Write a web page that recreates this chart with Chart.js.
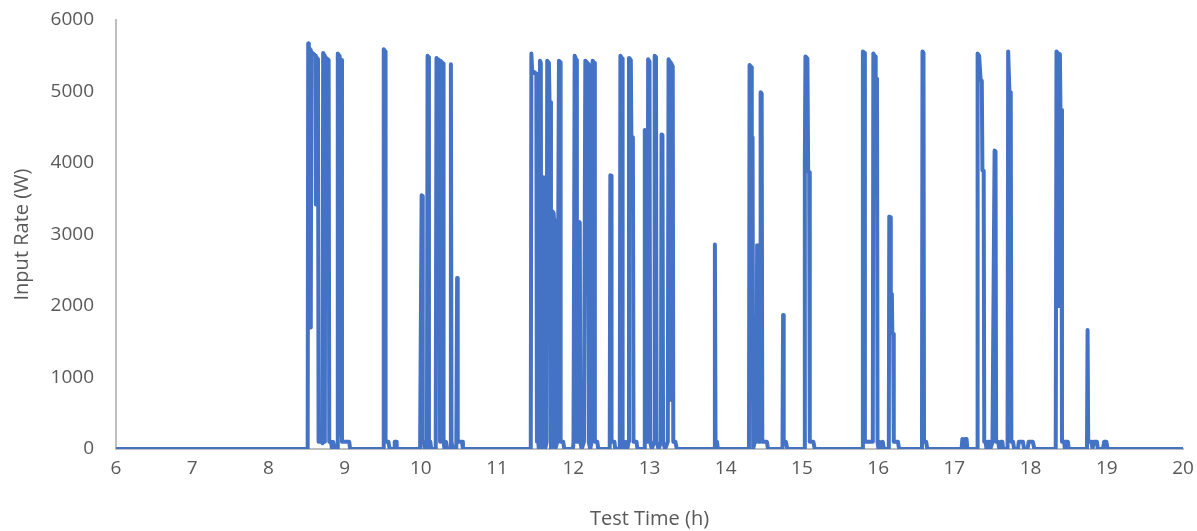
<!DOCTYPE html>
<html>
<head>
<meta charset="utf-8">
<script src="https://cdn.jsdelivr.net/npm/chart.js@4.4.0/dist/chart.umd.min.js"></script>
<style>
  html, body { margin: 0; padding: 0; background: #fff; }
  #wrap { width: 1197px; height: 531px; }
</style>
</head>
<body>
<div id="wrap"><canvas id="rateChart"></canvas></div>
<script>
// Test time (h) and input rate (W), one line per burst
const testTime = [
  6.0,
  8.515, 8.522, 8.530, 8.550, 8.556, 8.562, 8.600, 8.616, 8.622, 8.628, 8.650, 8.658, 8.700, 8.710, 8.718, 8.735, 8.740, 8.746, 8.790, 8.798, 8.820, 8.835, 8.850, 8.870, 8.900, 8.910, 8.928, 8.934, 8.940, 8.958, 8.965, 9.060, 9.072,
  9.505, 9.513, 9.530, 9.537, 9.575, 9.590, 9.650, 9.657, 9.675, 9.683,
  9.990, 10.010, 10.018, 10.025, 10.040, 10.050, 10.080, 10.088, 10.100, 10.106, 10.125, 10.135, 10.195, 10.205, 10.214, 10.220, 10.227, 10.246, 10.252, 10.258, 10.292, 10.298, 10.310, 10.330, 10.345, 10.385, 10.394, 10.402, 10.420, 10.465, 10.476, 10.484, 10.540, 10.552,
  11.442, 11.450, 11.460, 11.515, 11.523, 11.540, 11.548, 11.556, 11.563, 11.574, 11.581, 11.605, 11.613, 11.624, 11.631, 11.650, 11.658, 11.680, 11.688, 11.700, 11.707, 11.722, 11.730, 11.742, 11.748, 11.757, 11.764, 11.790, 11.812, 11.826, 11.834, 11.868, 11.882,
  11.995, 12.003, 12.018, 12.040, 12.047, 12.062, 12.070, 12.085, 12.092, 12.110, 12.140, 12.158, 12.185, 12.195, 12.203, 12.222, 12.240, 12.254, 12.275, 12.283, 12.315, 12.328,
  12.478, 12.486, 12.495, 12.502, 12.540, 12.550,
  12.610, 12.618, 12.640, 12.647, 12.665, 12.690, 12.710, 12.724, 12.731, 12.755, 12.762, 12.782, 12.790, 12.830, 12.842,
  12.930, 12.938, 12.955, 12.962, 12.975, 12.982, 13.000, 13.008, 13.030, 13.060, 13.068, 13.085, 13.093, 13.120, 13.150, 13.158, 13.170, 13.178, 13.205, 13.240, 13.250, 13.265, 13.270, 13.276, 13.305, 13.312, 13.340, 13.358,
  13.850, 13.858, 13.866, 13.885, 13.897,
  14.305, 14.313, 14.335, 14.342, 14.352, 14.360, 14.380, 14.405, 14.412, 14.425, 14.432, 14.450, 14.458, 14.472, 14.480, 14.540, 14.555,
  14.745, 14.753, 14.761, 14.790, 14.808,
  15.030, 15.038, 15.046, 15.072, 15.082, 15.095, 15.103, 15.150, 15.168,
  15.790, 15.800, 15.818, 15.826, 15.845, 15.930, 15.937, 15.960, 15.968, 15.985, 15.992, 16.005, 16.020, 16.035, 16.060, 16.075, 16.140, 16.146, 16.160, 16.166, 16.180, 16.186, 16.198, 16.205, 16.260, 16.275,
  16.575, 16.582, 16.595, 16.602, 16.630, 16.645,
  17.095, 17.105, 17.115, 17.140, 17.150, 17.160, 17.170,
  17.298, 17.305, 17.325, 17.345, 17.360, 17.368, 17.385, 17.392, 17.410, 17.422, 17.440, 17.460, 17.472, 17.500, 17.528, 17.540, 17.548, 17.575, 17.590, 17.610, 17.630, 17.640, 17.698, 17.706, 17.722, 17.740, 17.748, 17.770, 17.785, 17.835, 17.845, 17.900, 17.915, 17.960, 17.975, 18.030, 18.050,
  18.330, 18.340, 18.355, 18.362, 18.370, 18.385, 18.392, 18.405, 18.412, 18.440, 18.450, 18.460, 18.490, 18.500,
  18.740, 18.748, 18.756, 18.800, 18.812, 18.830, 18.870, 18.882, 18.950, 18.965, 18.995, 19.010,
  20.0
];
const inputRate = [
  0,
  0, 5670, 5620, 5580, 1700, 5550, 5520, 5500, 3420, 5480, 5450, 100, 100, 80, 5540, 5500, 100, 5480, 5440, 100, 100, 0, 100, 0, 0, 5530, 5500, 200, 5460, 5440, 100, 100, 0,
  0, 5590, 5560, 100, 100, 0, 0, 100, 100, 0,
  0, 3550, 3540, 100, 100, 0, 0, 5500, 5480, 100, 100, 0, 0, 5470, 5440, 2200, 5450, 5420, 100, 5430, 5390, 100, 0, 100, 0, 0, 5380, 100, 0, 0, 2390, 100, 100, 0,
  0, 5530, 5290, 5250, 100, 100, 0, 100, 5430, 5400, 0, 0, 3800, 3790, 0, 100, 5430, 5400, 4860, 4850, 0, 100, 3320, 3300, 3200, 3190, 0, 100, 5430, 5410, 100, 100, 0,
  0, 100, 5500, 5440, 100, 100, 3180, 3170, 100, 0, 100, 5430, 5400, 5380, 100, 0, 100, 5430, 5400, 100, 100, 0,
  0, 3830, 3820, 100, 100, 0,
  0, 5500, 5460, 100, 0, 100, 0, 100, 5470, 5440, 4370, 4360, 100, 100, 0,
  0, 4460, 4450, 100, 100, 5450, 5420, 100, 0, 100, 5500, 5480, 100, 0, 100, 4400, 4390, 100, 0, 100, 5450, 5420, 690, 5410, 5350, 100, 100, 0,
  0, 2860, 100, 100, 0,
  0, 5370, 5340, 4370, 4360, 0, 100, 100, 2850, 2840, 100, 100, 4990, 4970, 100, 100, 0,
  0, 1875, 100, 100, 0,
  0, 3970, 5490, 5460, 3880, 3870, 100, 100, 0,
  0, 5560, 5540, 100, 100, 100, 5530, 5490, 5190, 5180, 100, 0, 100, 0, 100, 0, 0, 3250, 3240, 2180, 2170, 1620, 1610, 100, 100, 0,
  0, 5560, 5540, 100, 100, 0,
  0, 140, 0, 140, 0, 140, 0,
  0, 5530, 5500, 5160, 5150, 3900, 3890, 100, 100, 0, 100, 100, 0, 100, 4175, 4165, 100, 100, 0, 100, 100, 0, 0, 5560, 5000, 4990, 100, 100, 0, 0, 100, 100, 0, 0, 100, 100, 0,
  0, 5560, 5540, 2000, 5530, 5520, 4750, 4740, 100, 100, 0, 100, 100, 0,
  0, 1665, 100, 100, 0, 100, 100, 0, 0, 100, 100, 0,
  0
];

const xTicks = [6, 7, 8, 9, 10, 11, 12, 13, 14, 15, 16, 17, 18, 19, 20];
const yTicks = [0, 1000, 2000, 3000, 4000, 5000, 6000];

const points = testTime.map((t, i) => ({ x: t, y: inputRate[i] }));

const ctx = document.getElementById('rateChart').getContext('2d');
new Chart(ctx, {
  type: 'line',
  data: {
    datasets: [{
      label: 'Input Rate',
      data: points,
      borderColor: '#4472C4',
      borderWidth: 4,
      borderJoinStyle: 'round',
      borderCapStyle: 'round',
      pointRadius: 0,
      tension: 0,
      fill: false
    }]
  },
  options: {
    responsive: true,
    maintainAspectRatio: false,
    animation: false,
    layout: { padding: { top: 20, right: 14, left: 0, bottom: 0 } },
    plugins: {
      legend: { display: false },
      tooltip: { enabled: false }
    },
    scales: {
      x: {
        type: 'linear',
        min: xTicks[0],
        max: xTicks[xTicks.length - 1],
        afterBuildTicks: s => { s.ticks = xTicks.map(v => ({ value: v })); },
        afterFit: s => { s.height = 82; s.paddingLeft = 0; s.paddingRight = 0; },
        grid: { display: false, drawTicks: false },
        border: { display: true, color: '#BFBFBF', width: 2 },
        ticks: { color: '#595959', font: { family: 'Open Sans', size: 19 }, padding: 8, maxRotation: 0, callback: v => String(v) },
        title: { display: true, text: 'Test Time (h)', color: '#595959', font: { family: 'Open Sans', size: 20 }, padding: { top: 0, bottom: 0 } }
      },
      y: {
        min: yTicks[0],
        max: yTicks[yTicks.length - 1],
        afterBuildTicks: s => { s.ticks = yTicks.map(v => ({ value: v })); },
        afterFit: s => { s.width = 116; s.paddingTop = 0; s.paddingBottom = 0; },
        grid: { display: false, drawTicks: false },
        border: { display: true, color: '#BFBFBF', width: 2 },
        ticks: { color: '#595959', font: { family: 'Open Sans', size: 19 }, padding: 22, callback: v => String(v) },
        title: { display: true, text: 'Input Rate (W)', color: '#595959', font: { family: 'Open Sans', size: 20 }, padding: { top: 10, bottom: 0 } }
      }
    }
  }
});
</script>
</body>
</html>
